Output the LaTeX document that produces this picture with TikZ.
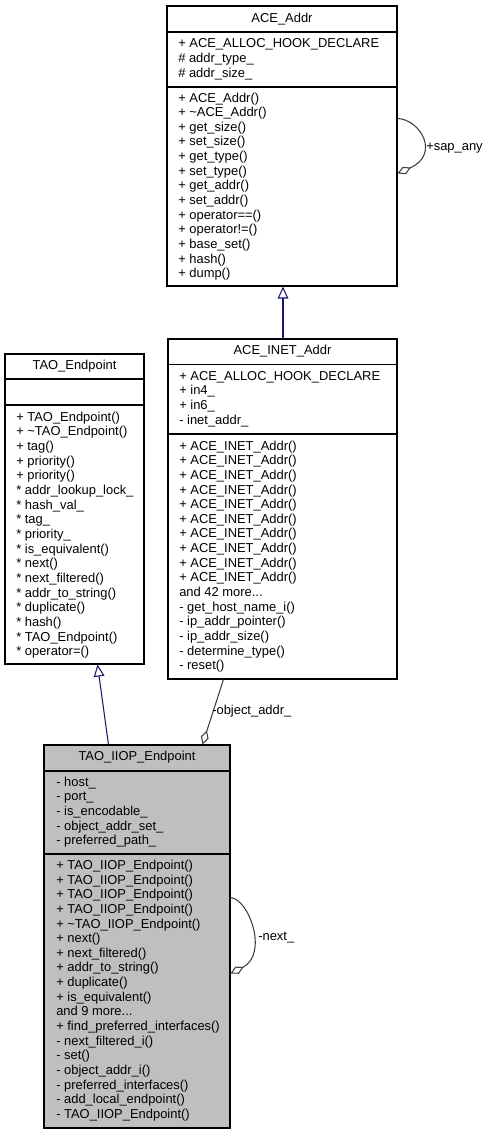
\documentclass[tikz,border=0pt]{standalone}
\usepackage{fontspec}
\setmainfont{Liberation Sans}
\usetikzlibrary{arrows.meta,calc,fit}
\definecolor{inhcol}{HTML}{191970}
\definecolor{aggcol}{HTML}{404040}
\definecolor{fillgrey}{HTML}{BFBFBF}
\newcommand{\tl}{\textasciitilde{}}
\begin{document}
\begin{tikzpicture}[x=0.75pt,y=-0.75pt,
  cls/.style={draw=black, line width=0.8pt, inner sep=0pt, fill=white},
  sepline/.style={line width=0.8pt},
  members/.style={font=\fontsize{9.7}{10.99}\selectfont, align=left, anchor=west, inner sep=0pt},
  ctitle/.style={font=\fontsize{9.7}{10.99}\selectfont, inner sep=0pt},
  elabel/.style={font=\fontsize{9.7}{10.99}\selectfont, inner sep=0pt, anchor=base west},
  inh/.style={draw=inhcol, line width=0.8pt, -{Triangle[open, length=9pt, width=8pt]}},
  agg/.style={draw=aggcol, line width=0.8pt, -{Diamond[open, length=11pt, width=6pt]}}]
\useasboundingbox (0,0) rectangle (488,1136);

% ---------------- ACE_Addr
\node[cls, fit={(167,6) (397,286)}] (addr) {};
\draw[sepline] (167,32) -- (397,32);
\draw[sepline] (167,87) -- (397,87);
\node[ctitle] (addrT) at (282,19.5) {\strut ACE\_Addr};
\node[members] (addrA) at (178,59.5) {\strut + ACE\_ALLOC\_HOOK\_DECLARE\\\strut \# addr\_type\_\\\strut \# addr\_size\_};
\node[members] (addrM) at (178,187) {\strut + ACE\_Addr()\\\strut + \tl ACE\_Addr()\\\strut + get\_size()\\\strut + set\_size()\\\strut + get\_type()\\\strut + set\_type()\\\strut + get\_addr()\\\strut + set\_addr()\\\strut + operator==()\\\strut + operator!=()\\\strut + base\_set()\\\strut + hash()\\\strut + dump()};

% ---------------- ACE_INET_Addr
\node[cls, fit={(168,339) (397,679)}] (inet) {};
\draw[sepline] (168,364.5) -- (397,364.5);
\draw[sepline] (168,434) -- (397,434);
\node[ctitle] (inetT) at (282.5,352) {\strut ACE\_INET\_Addr};
\node[members] (inetA) at (179,399.25) {\strut + ACE\_ALLOC\_HOOK\_DECLARE\\\strut + in4\_\\\strut + in6\_\\\strut - inet\_addr\_};
\node[members] (inetM) at (179,557) {\strut + ACE\_INET\_Addr()\\\strut + ACE\_INET\_Addr()\\\strut + ACE\_INET\_Addr()\\\strut + ACE\_INET\_Addr()\\\strut + ACE\_INET\_Addr()\\\strut + ACE\_INET\_Addr()\\\strut + ACE\_INET\_Addr()\\\strut + ACE\_INET\_Addr()\\\strut + ACE\_INET\_Addr()\\\strut + ACE\_INET\_Addr()\\\strut and 42 more...\\\strut - get\_host\_name\_i()\\\strut - ip\_addr\_pointer()\\\strut - ip\_addr\_size()\\\strut - determine\_type()\\\strut - reset()};

% ---------------- TAO_Endpoint
\node[cls, fit={(5,354) (144,664)}] (endp) {};
\draw[sepline] (5,379) -- (144,379);
\draw[sepline] (5,405) -- (144,405);
\node[ctitle] (endpT) at (74.5,367) {\strut TAO\_Endpoint};
\node[members] (endpM) at (16,535.5) {\strut + TAO\_Endpoint()\\\strut + \tl TAO\_Endpoint()\\\strut + tag()\\\strut + priority()\\\strut + priority()\\\strut * addr\_lookup\_lock\_\\\strut * hash\_val\_\\\strut * tag\_\\\strut * priority\_\\\strut * is\_equivalent()\\\strut * next()\\\strut * next\_filtered()\\\strut * addr\_to\_string()\\\strut * duplicate()\\\strut * hash()\\\strut * TAO\_Endpoint()\\\strut * operator=()};

% ---------------- TAO_IIOP_Endpoint
\node[cls, fill=fillgrey, fit={(44,745) (230,1128)}] (iiop) {};
\draw[sepline] (44,771) -- (230,771);
\draw[sepline] (44,854) -- (230,854);
\node[ctitle] (iiopT) at (137,758) {\strut TAO\_IIOP\_Endpoint};
\node[members] (iiopA) at (56,812.5) {\strut - host\_\\\strut - port\_\\\strut - is\_encodable\_\\\strut - object\_addr\_set\_\\\strut - preferred\_path\_};
\node[members] (iiopM) at (56,991) {\strut + TAO\_IIOP\_Endpoint()\\\strut + TAO\_IIOP\_Endpoint()\\\strut + TAO\_IIOP\_Endpoint()\\\strut + TAO\_IIOP\_Endpoint()\\\strut + \tl TAO\_IIOP\_Endpoint()\\\strut + next()\\\strut + next\_filtered()\\\strut + addr\_to\_string()\\\strut + duplicate()\\\strut + is\_equivalent()\\\strut and 9 more...\\\strut + find\_preferred\_interfaces()\\\strut - next\_filtered\_i()\\\strut - set()\\\strut - object\_addr\_i()\\\strut - preferred\_interfaces()\\\strut - add\_local\_endpoint()\\\strut - TAO\_IIOP\_Endpoint()};

% ---------------- connectors
\draw[inh] (inet.north -| 283,0) -- (addr.south -| 283,0);
\draw[inh] ($(iiop.north west)+(65,0)$) -- ($(endp.south west)+(93,0)$);
\draw[agg] ($(inet.south west)+(56,0)$) -- ($(iiop.north west)+(159,0)$);
\node[elabel] (lobj) at (212,714) {-object\_addr\_};

\coordinate (addrLs) at ($(addr.north east)+(0,113)$);
\coordinate (addrLe) at ($(addr.north east)+(0,168)$);
\draw[agg] (addrLs) .. controls ($(addrLs)+(23,1)$) and ($(addrLe)+(43,-19)$) .. (addrLe);
\node[elabel] (lsap) at (426,150.5) {+sap\_any};

\coordinate (iiopLs) at ($(iiop.north east)+(0,153)$);
\coordinate (iiopLe) at ($(iiop.north east)+(0,229)$);
\draw[agg] (iiopLs) .. controls ($(iiopLs)+(19,2)$) and ($(iiopLe)+(38,-19)$) .. (iiopLe);
\node[elabel] (lnext) at (258,940) {-next\_};
\end{tikzpicture}
\end{document}
